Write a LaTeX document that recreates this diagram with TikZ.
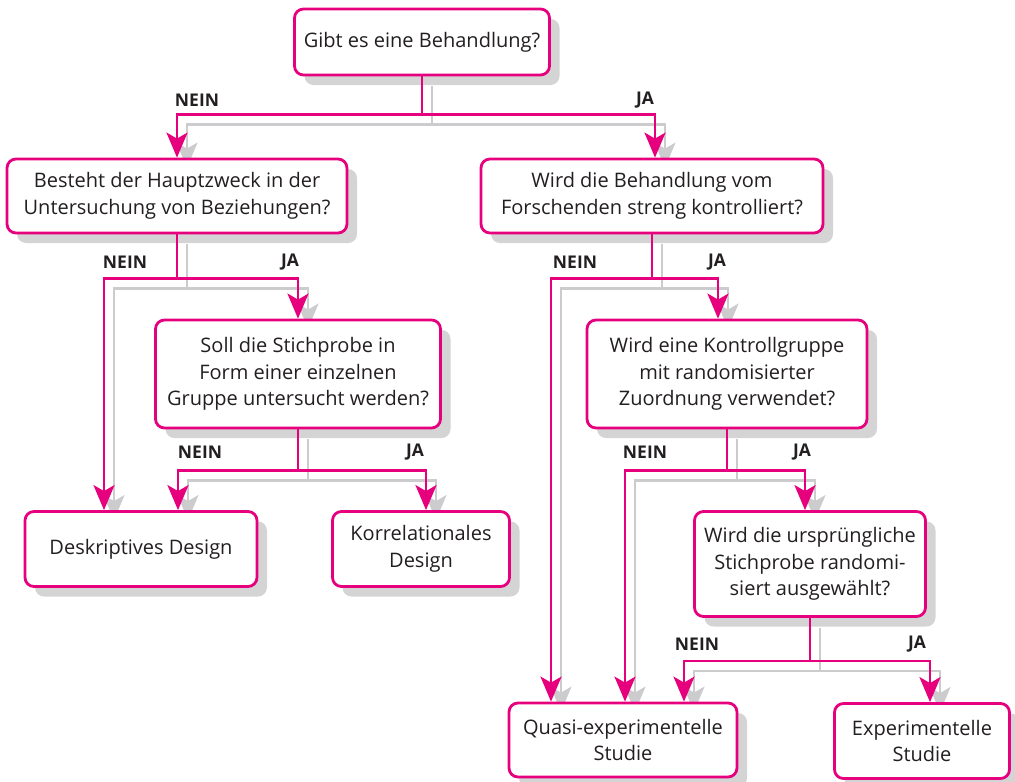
\documentclass[tikz,border=0pt]{standalone}
\usepackage{fontspec}
\setmainfont{Open Sans}
\usetikzlibrary{arrows.meta,shadows,backgrounds}

\definecolor{brandpink}{RGB}{230,0,126}
\definecolor{shadegray}{RGB}{204,204,206}
\definecolor{inkgray}{RGB}{35,31,32}

\begin{document}
\begin{tikzpicture}[
  x=1pt, y=-1pt,
  font=\fontsize{20}{26.5}\selectfont,
  box/.style={rounded corners=9pt, draw=brandpink, line width=2.8pt, fill=white, text=inkgray, align=center, inner sep=0pt,
    drop shadow={shadow xshift=10pt, shadow yshift=-10pt, fill=shadegray!85, opacity=1}},
  arr/.style={-{Stealth[length=25pt,width=21pt,inset=6pt]}, line width=2.8pt, draw=brandpink},
  ghost/.style={-{Stealth[length=25pt,width=21pt,inset=6pt]}, line width=2.8pt, draw=shadegray},
  sh/.style={shift={(10pt,-10pt)}},
  lbl/.style={font=\fontsize{17.5}{20}\selectfont\bfseries, text=inkgray},
]
  \useasboundingbox (0,0) rectangle (1015,782);

  % questions
  \node[box, minimum width=255, minimum height=66] (q1) at (422,42) {Gibt es eine Behandlung?};
  \node[box, minimum width=340, minimum height=74] (q2) at (177,196) {Besteht der Hauptzweck in der\\Untersuchung von Beziehungen?};
  \node[box, minimum width=342, minimum height=74] (q3) at (652,196) {Wird die Behandlung vom\\Forschenden streng kontrolliert?};
  \node[box, minimum width=285, minimum height=108] (q4) at (298,374) {Soll die Stichprobe in\\Form einer einzelnen\\Gruppe untersucht werden?};
  \node[box, minimum width=280, minimum height=108] (q5) at (727,374) {Wird eine Kontrollgruppe\\mit randomisierter\\Zuordnung verwendet?};
  \node[box, minimum width=231, minimum height=105] (q6) at (810,564) {Wird die ursprüngliche\\Stichprobe randomi-\\siert ausgewählt?};

  % results
  \node[box, minimum width=232, minimum height=75] (r1) at (141,549) {Deskriptives Design};
  \node[box, minimum width=177, minimum height=75] (r2) at (421,549) {Korrelationales\\Design};
  \node[box, minimum width=228, minimum height=74] (r3) at (623,740) {Quasi-experimentelle\\Studie};
  \node[box, minimum width=175, minimum height=75] (r4) at (922,741) {Experimentelle\\Studie};

  % shadow lines
  \begin{scope}[on background layer]
    \draw[ghost] ([sh]q1.south) -- ++(0,38) -| ([sh]q2.north);
    \draw[ghost] ([sh]q1.south) -- ++(0,38) -| ([sh, xshift=3pt]q3.north);
    \draw[ghost] ([sh]q2.south) -- ++(0,44) -| ([sh, xshift=-37pt]r1.north);
    \draw[ghost] ([sh]q2.south) -- ++(0,44) -| ([sh]q4.north);
    \draw[ghost] ([sh]q3.south) -- ++(0,44) -| ([sh, xshift=-72pt]r3.north);
    \draw[ghost] ([sh]q3.south) -- ++(0,44) -| ([sh, xshift=-9pt]q5.north);
    \draw[ghost] ([sh]q4.south) -- ++(0,41) -| ([sh, xshift=37pt]r1.north);
    \draw[ghost] ([sh]q4.south) -- ++(0,41) -| ([sh, xshift=5pt]r2.north);
    \draw[ghost] ([sh]q5.south) -- ++(0,41) -| ([sh, xshift=2pt]r3.north);
    \draw[ghost] ([sh]q5.south) -- ++(0,41) -| ([sh, xshift=-5pt]q6.north);
    \draw[ghost] ([sh]q6.south) -- ++(0,43) -| ([sh, xshift=61pt]r3.north);
    \draw[ghost] ([sh]q6.south) -- ++(0,43) -| ([sh, xshift=8pt]r4.north);
  \end{scope}

  % connectors
  \draw[arr] (q1.south) -- ++(0,38) -| (q2.north);
  \draw[arr] (q1.south) -- ++(0,38) -| ([xshift=3pt]q3.north);
  \draw[arr] (q2.south) -- ++(0,44) -| ([xshift=-37pt]r1.north);
  \draw[arr] (q2.south) -- ++(0,44) -| (q4.north);
  \draw[arr] (q3.south) -- ++(0,44) -| ([xshift=-72pt]r3.north);
  \draw[arr] (q3.south) -- ++(0,44) -| ([xshift=-9pt]q5.north);
  \draw[arr] (q4.south) -- ++(0,41) -| ([xshift=37pt]r1.north);
  \draw[arr] (q4.south) -- ++(0,41) -| ([xshift=5pt]r2.north);
  \draw[arr] (q5.south) -- ++(0,41) -| ([xshift=2pt]r3.north);
  \draw[arr] (q5.south) -- ++(0,41) -| ([xshift=-5pt]q6.north);
  \draw[arr] (q6.south) -- ++(0,43) -| ([xshift=61pt]r3.north);
  \draw[arr] (q6.south) -- ++(0,43) -| ([xshift=8pt]r4.north);

  % labels
  \node[lbl] (n1) at (197,100) {NEIN};
  \node[lbl] (j1) at (645,100) {JA};
  \node[lbl] (n2) at (125,262) {NEIN};
  \node[lbl] (j2) at (290,262) {JA};
  \node[lbl] (n3) at (575,262) {NEIN};
  \node[lbl] (j3) at (717,262) {JA};
  \node[lbl] (n4) at (200,452) {NEIN};
  \node[lbl] (j4) at (415,452) {JA};
  \node[lbl] (n5) at (645,452) {NEIN};
  \node[lbl] (j5) at (802,452) {JA};
  \node[lbl] (n6) at (697,644) {NEIN};
  \node[lbl] (j6) at (917,644) {JA};
\end{tikzpicture}
\end{document}
